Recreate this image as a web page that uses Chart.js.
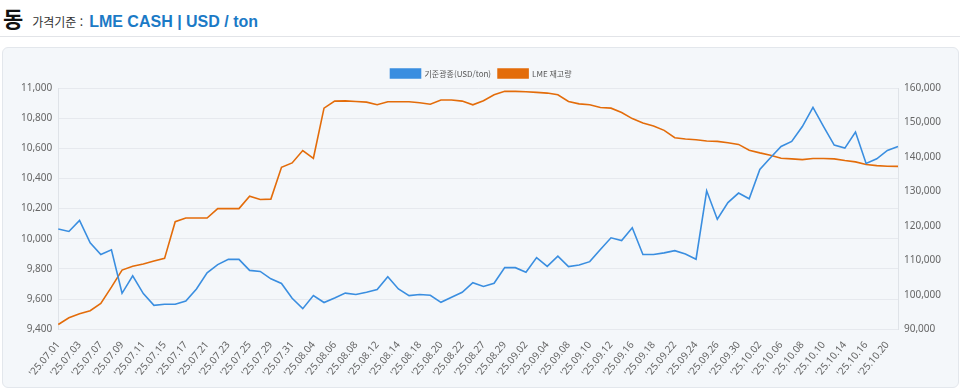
<!DOCTYPE html>
<html lang="ko">
<head>
<meta charset="utf-8">
<title>동 LME CASH</title>
<script src="https://cdn.jsdelivr.net/npm/chart.js@4.4.1/dist/chart.umd.min.js"></script>
<style>
    html, body { margin: 0; padding: 0; background: #fff; }
    body { width: 960px; height: 391px; position: relative; overflow: hidden; font-family: "Noto Sans CJK KR", "Noto Sans", sans-serif; }
    .title { position: absolute; left: 3px; top: 1px; height: 30px; display: flex; align-items: baseline; white-space: nowrap; }
    .title .metal { font-size: 22px; font-weight: 700; color: #111; }
    .title .base { font-size: 12px; color: #333; margin-left: 9px; }
    .title .unit { font-size: 16px; font-weight: 700; color: #1b7ac6; margin-left: 6px; font-family: "Liberation Sans", Arial, sans-serif; }
    .rule { position: absolute; left: 0; top: 36px; width: 960px; height: 1px; background: #e2e4e8; }
    .card { position: absolute; left: 2px; top: 47px; width: 955px; height: 339px; background: #f4f7fa; border: 1px solid #e3e7ec; border-radius: 6px; }
    .chart-box { position: absolute; left: 0; top: 0; width: 955px; height: 339px; }
</style>
</head>
<body>
<div class="title">
    <span class="metal">동</span>
    <span class="base">가격기준 :</span>
    <span class="unit">LME CASH | USD / ton</span>
</div>
<div class="rule"></div>
<div class="card">
    <div class="chart-box"><canvas id="copper-chart"></canvas></div>
</div>
<script>
// 거래일 (LME)
const dates = [
    '25.07.01', '25.07.02', '25.07.03', '25.07.04', '25.07.07', '25.07.08', '25.07.09', '25.07.10',
    '25.07.11', '25.07.14', '25.07.15', '25.07.16', '25.07.17', '25.07.18', '25.07.21', '25.07.22',
    '25.07.23', '25.07.24', '25.07.25', '25.07.28', '25.07.29', '25.07.30', '25.07.31', '25.08.01',
    '25.08.04', '25.08.05', '25.08.06', '25.08.07', '25.08.08', '25.08.11', '25.08.12', '25.08.13',
    '25.08.14', '25.08.15', '25.08.18', '25.08.19', '25.08.20', '25.08.21', '25.08.22', '25.08.26',
    '25.08.27', '25.08.28', '25.08.29', '25.09.01', '25.09.02', '25.09.03', '25.09.04', '25.09.05',
    '25.09.08', '25.09.09', '25.09.10', '25.09.11', '25.09.12', '25.09.15', '25.09.16', '25.09.17',
    '25.09.18', '25.09.19', '25.09.22', '25.09.23', '25.09.24', '25.09.25', '25.09.26', '25.09.29',
    '25.09.30', '25.10.01', '25.10.02', '25.10.03', '25.10.06', '25.10.07', '25.10.08', '25.10.09',
    '25.10.10', '25.10.13', '25.10.14', '25.10.15', '25.10.16', '25.10.17', '25.10.20', '25.10.21'
];

// 기준광종 (USD/ton)
const cashPrice = [
    10064, 10048, 10122, 9973, 9895, 9926, 9638, 9754, 9636, 9558,
    9565, 9565, 9587, 9667, 9774, 9828, 9863, 9863, 9790, 9783,
    9734, 9703, 9605, 9536, 9623, 9577, 9607, 9639, 9630, 9645,
    9663, 9748, 9667, 9623, 9630, 9625, 9578, 9612, 9645, 9708,
    9683, 9705, 9808, 9808, 9777, 9875, 9817, 9884, 9815, 9826,
    9848, 9928, 10006, 9988, 10073, 9895, 9895, 9906, 9921, 9899,
    9864, 10318, 10129, 10240, 10303, 10265, 10459, 10537, 10612, 10646,
    10744, 10871, 10744, 10621, 10601, 10708, 10499, 10530, 10586, 10612
];

// LME 재고량 (ton)
const lmeStock = [
    91350, 93300, 94500, 95350, 97500, 102200, 107150, 108250, 108900, 109800,
    110550, 121200, 122250, 122250, 122250, 125000, 125000, 125000, 128600, 127650,
    127750, 137000, 138250, 141850, 139600, 154150, 156200, 156250, 156100, 155900,
    155125, 156000, 156000, 156000, 155700, 155300, 156500, 156500, 156200, 155125,
    156300, 158050, 159025, 159025, 158925, 158725, 158525, 158050, 156100, 155400,
    155125, 154350, 154150, 152900, 151125, 149850, 148975, 147700, 145575, 145175,
    144975, 144600, 144500, 144100, 143625, 141950, 141175, 140500, 139625, 139425,
    139225, 139525, 139525, 139425, 138950, 138550, 137775, 137475, 137275, 137250
];

const seriesNames = ['기준광종(USD/ton)', 'LME 재고량'];
const seriesColors = ['#3a8ee0', '#e36c0a'];

const tickFont = { family: '"Noto Sans", "Noto Sans CJK KR", sans-serif', size: 10 };
const fmt = (v) => v.toLocaleString('en-US');

const ctx = document.getElementById('copper-chart').getContext('2d');
new Chart(ctx, {
    type: 'line',
    data: {
        labels: dates,
        datasets: [
            {
                label: seriesNames[0],
                data: cashPrice,
                yAxisID: 'yPrice',
                borderColor: seriesColors[0],
                backgroundColor: seriesColors[0],
                borderWidth: 1.6,
                pointRadius: 0,
                tension: 0
            },
            {
                label: seriesNames[1],
                data: lmeStock,
                yAxisID: 'yStock',
                borderColor: seriesColors[1],
                backgroundColor: seriesColors[1],
                borderWidth: 1.6,
                pointRadius: 0,
                tension: 0
            }
        ]
    },
    options: {
        responsive: true,
        maintainAspectRatio: false,
        animation: false,
        layout: { padding: { left: 12, right: 11, top: 14, bottom: 6 } },
        plugins: {
            legend: {
                position: 'top',
                labels: {
                    boxWidth: 30,
                    boxHeight: 9,
                    padding: 7,
                    color: '#555',
                    font: { family: '"Noto Sans CJK KR", "Noto Sans", sans-serif', size: 8 }
                }
            },
            tooltip: { enabled: false }
        },
        scales: {
            x: {
                grid: { display: false },
                border: { display: false },
                ticks: {
                    autoSkip: false,
                    minRotation: 50,
                    maxRotation: 50,
                    color: '#666',
                    font: tickFont,
                    padding: 2,
                    callback: (val, i) => (i % 2 === 0 ? "'" + dates[i] : '')
                }
            },
            yPrice: {
                position: 'left',
                min: 9400,
                max: 11000,
                ticks: { stepSize: 200, color: '#666', font: tickFont, padding: 6, callback: fmt },
                grid: { color: '#e6e9ee', drawTicks: false },
                border: { display: true, color: '#dfe3e8' }
            },
            yStock: {
                position: 'right',
                min: 90000,
                max: 160000,
                ticks: { stepSize: 10000, color: '#666', font: tickFont, padding: 6, callback: fmt },
                grid: { display: false, drawTicks: false },
                border: { display: true, color: '#dfe3e8' }
            }
        }
    }
});
</script>
</body>
</html>
